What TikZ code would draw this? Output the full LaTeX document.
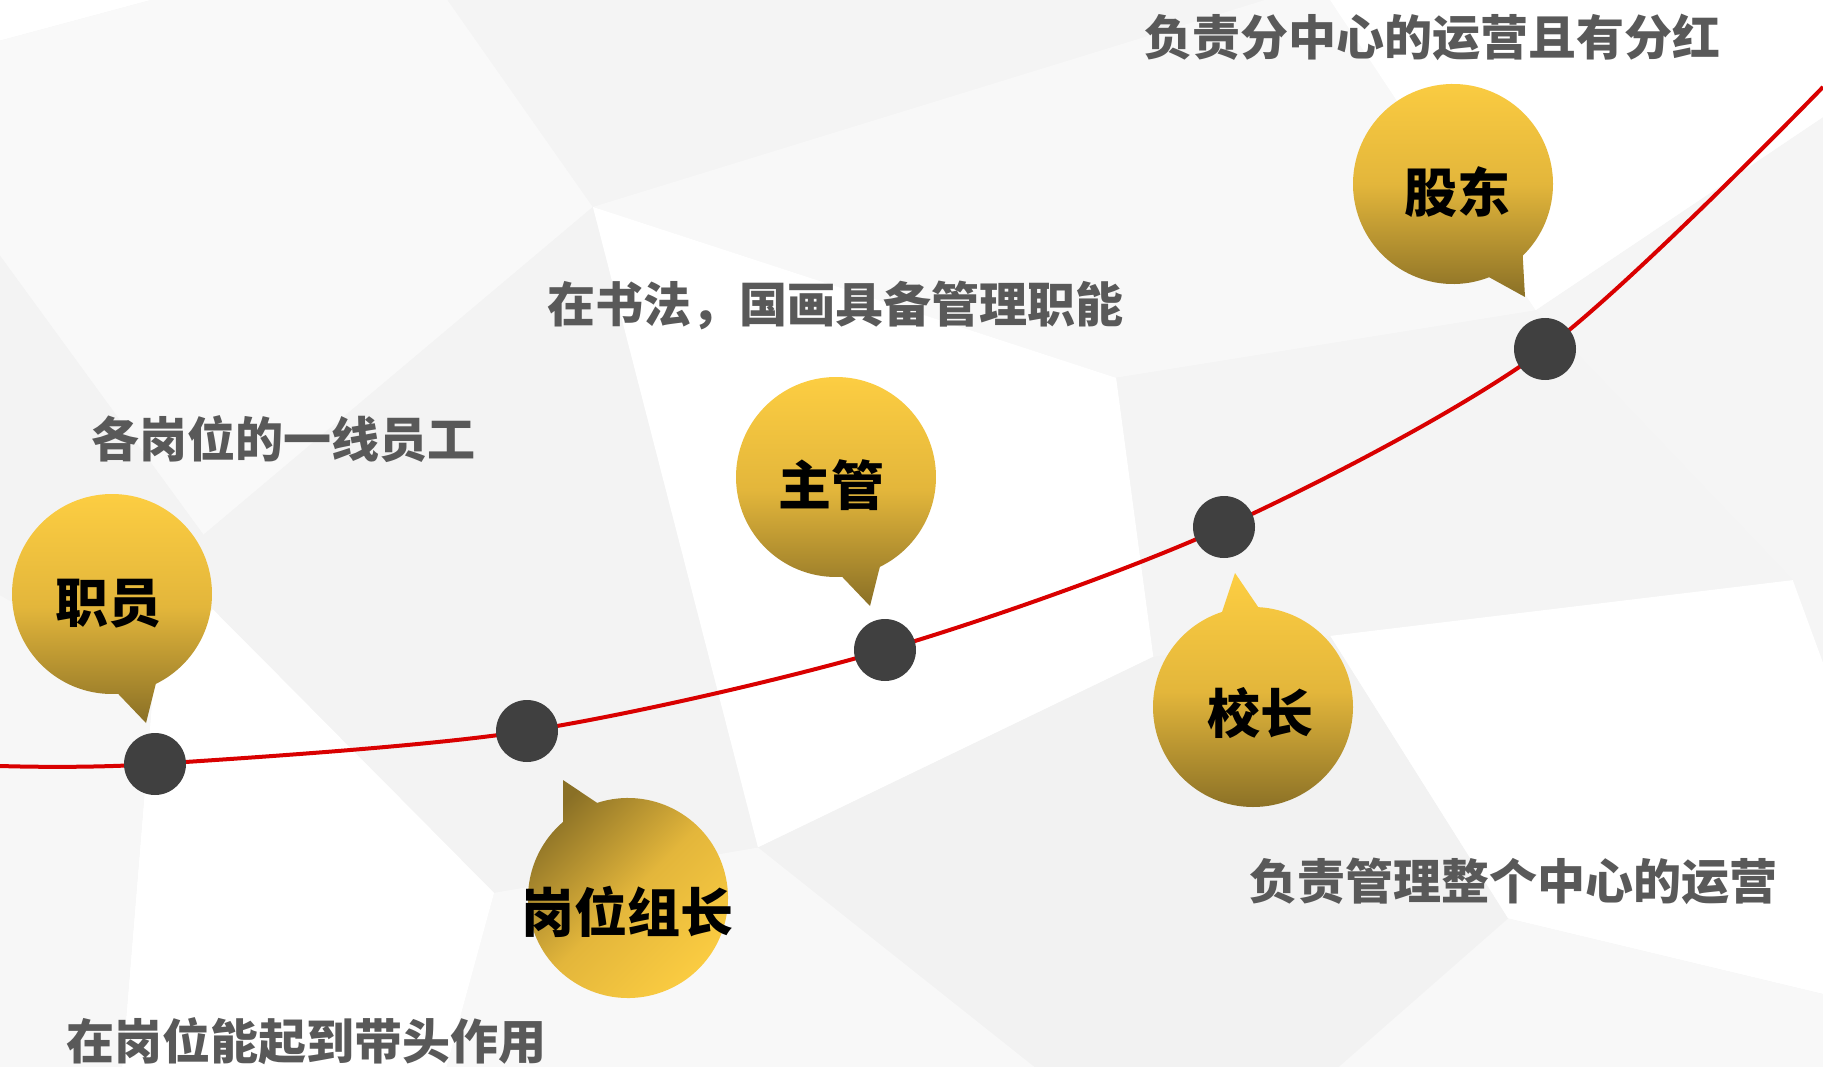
\documentclass[tikz,border=0pt]{standalone}
\usepackage{fontspec}
\setmainfont{Noto Sans CJK SC}
\definecolor{lbl}{HTML}{595959}
\definecolor{dotc}{HTML}{404040}
\definecolor{redl}{HTML}{D90000}
\definecolor{goldL}{HTML}{FDCE42}
\definecolor{goldM}{HTML}{E3B63B}
\definecolor{goldD}{HTML}{8A7026}
\definecolor{gr2}{HTML}{F2F2F2}
\definecolor{gr3}{HTML}{F3F3F3}
\definecolor{gr4}{HTML}{F4F4F4}
\definecolor{gr5}{HTML}{F5F5F5}
\definecolor{gr7}{HTML}{F7F7F7}
\definecolor{gr8}{HTML}{F8F8F8}
\definecolor{gr9}{HTML}{F9F9F9}
\begin{document}
\begin{tikzpicture}[x=1pt,y=-1pt,
  poly/.style={fill=#1,draw=none},
  bubbledown/.style={top color=goldL,bottom color=goldD,middle color=goldM,draw=none},
  bubbleup/.style={top color=goldL,bottom color=goldD,middle color=goldM,draw=none},
  bubblediag/.style={left color=goldD,right color=goldL,middle color=goldM,shading angle=45,draw=none},
  dotn/.style={circle,fill=dotc,minimum size=62pt,inner sep=0pt},
  btxt/.style={font=\fontsize{53}{53}\selectfont\bfseries,text=black,inner sep=0pt},
  ltxt/.style={font=\fontsize{48}{48}\selectfont\bfseries,text=lbl,inner sep=0pt},
  curve/.style={draw=redl,line width=4pt}]
\useasboundingbox (0,0) rectangle (1823,1067);
% background low-poly
\fill[gr5] (0,0) rectangle (1823,1067);
\begin{scope}[scale=1.1626]
\fill[white] (0,0) -- (130,0) -- (0,35) -- cycle;
\fill[poly=gr9] (0,35) -- (130,0) -- (385,0) -- (510,178) -- (175,460) -- (0,220) -- cycle;
\fill[poly=gr3] (0,220) -- (175,460) -- (183,524) -- (132,588) -- (0,512) -- cycle;
\fill[poly=gr3] (175,460) -- (510,178) -- (652,729) -- (425,768) -- (183,524) -- cycle;
\fill[poly=gr4] (385,0) -- (1088,0) -- (510,178) -- cycle;
\fill[poly=gr8] (510,178) -- (1088,0) -- (1144,0) -- (1321,267) -- (960,325) -- cycle;
\fill[white] (1144,0) -- (1568,0) -- (1568,101) -- (1321,267) -- cycle;
\fill[poly=gr5] (1321,267) -- (1568,101) -- (1568,497) -- (1542,499) -- cycle;
\fill[poly=gr4] (960,325) -- (1321,267) -- (1542,499) -- (1144,547) -- (992,565) -- cycle;
\fill[white] (510,178) -- (960,325) -- (992,565) -- (652,729) -- cycle;
\fill[white] (1144,547) -- (1542,499) -- (1568,570) -- (1568,855) -- (1297,790) -- cycle;
\fill[poly=gr8] (1297,790) -- (1568,855) -- (1568,918) -- (1151,918) -- cycle;
\fill[poly=gr2] (652,729) -- (992,565) -- (1144,547) -- (1297,790) -- (1151,918) -- (890,918) -- cycle;
\fill[poly=gr8] (425,768) -- (652,729) -- (890,918) -- (384,918) -- cycle;
\fill[white] (183,524) -- (425,768) -- (384,918) -- (105,918) -- (132,588) -- cycle;
\fill[poly=gr7] (0,512) -- (132,588) -- (105,918) -- (0,918) -- cycle;
\end{scope}
% curve
\coordinate (p0) at (0,766);
\coordinate (p1) at (155,764);
\coordinate (p2) at (527,731);
\coordinate (p3) at (885,650);
\coordinate (p4) at (1224,527);
\coordinate (p5) at (1545,349);
\coordinate (p6) at (1823,87);
\draw[curve] plot[smooth,tension=0.5] coordinates {(p0) (p1) (p2) (p3) (p4) (p5) (p6)};
\node[dotn] (d1) at (p1) {};
\node[dotn] (d2) at (p2) {};
\node[dotn] (d3) at (p3) {};
\node[dotn] (d4) at (p4) {};
\node[dotn] (d5) at (p5) {};
% bubbles
\shade[bubbledown] (112,594) ++(86.5:100) arc[start angle=86.5,end angle=424,radius=100] -- (146,723) -- cycle;
\shade[bubbledown] (836,477) ++(86.5:100) arc[start angle=86.5,end angle=424,radius=100] -- (870,606) -- cycle;
\shade[bubbledown] (1453,184) ++(68.8:100) arc[start angle=68.8,end angle=405.8,radius=100] -- (1525,297) -- cycle;
\shade[bubbleup] (1253,707) ++(273:100) arc[start angle=273,end angle=612,radius=100] -- (1235,573) -- cycle;
\shade[bubblediag] (628,898) ++(252:100) arc[start angle=252,end angle=589.5,radius=100] -- (563,780) -- cycle;
% bubble texts
\node[btxt] (t1) at (108,604) {职员};
\node[btxt] (t2) at (627,912) {岗位组长};
\node[btxt] (t3) at (831,485) {主管};
\node[btxt] (t4) at (1260,713) {校长};
\node[btxt] (t5) at (1457,192) {股东};
% labels
\node[ltxt] (l1) at (283,439) {各岗位的一线员工};
\node[ltxt] (l2) at (306,1041) {在岗位能起到带头作用};
\node[ltxt] (l3) at (835,305) {在书法，国画具备管理职能};
\node[ltxt] (l4) at (1513,881) {负责管理整个中心的运营};
\node[ltxt] (l5) at (1432,37) {负责分中心的运营且有分红};
\end{tikzpicture}
\end{document}
